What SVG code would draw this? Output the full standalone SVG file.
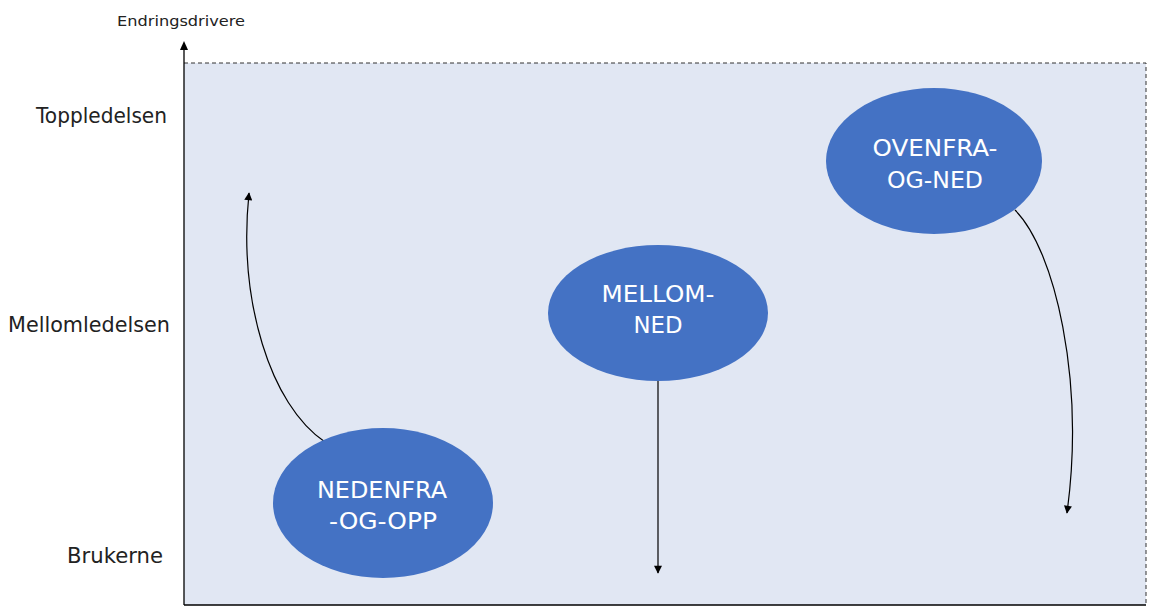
<svg xmlns="http://www.w3.org/2000/svg" width="1152" height="607" viewBox="0 0 1152 607">
  <defs>
    <marker id="arrow" viewBox="0 0 10 10" refX="9" refY="5" markerWidth="9" markerHeight="8" orient="auto-start-reverse" markerUnits="userSpaceOnUse">
      <path d="M0,0 L10,5 L0,10 z" fill="#000"/>
    </marker>
    <style>
      .axis { stroke: #000; stroke-width: 1.3; fill: none; }
      .frame { stroke: #333; stroke-width: 1; stroke-dasharray: 4 3; fill: none; }
      .conn { stroke: #000; stroke-width: 1.2; fill: none; marker-end: url(#arrow); }
      .node { fill: #4472C4; }
      .ntext { font-family: "DejaVu Sans", "Liberation Sans", sans-serif; font-size: 23px; fill: #fff; text-anchor: middle; }
      .level { font-family: "DejaVu Sans", "Liberation Sans", sans-serif; font-size: 21px; fill: #222; text-anchor: end; }
      .title { font-family: "DejaVu Sans", "Liberation Sans", sans-serif; font-size: 14px; fill: #222; }
    </style>
  </defs>

  <rect width="1152" height="607" fill="#fff"/>

  <!-- plotting area -->
  <rect x="184" y="63" width="962" height="542" fill="#E1E7F3"/>
  <path class="frame" d="M184,63 H1146 V605"/>
  <path class="axis" d="M184,605 H1146"/>
  <path class="axis" d="M184,605 V48"/>
  <path d="M180,50 L184,41 L188,50 z" fill="#000"/>

  <!-- axis labels -->
  <text class="title" x="117" y="26" textLength="128" lengthAdjust="spacingAndGlyphs">Endringsdrivere</text>
  <text class="level" x="167" y="123" textLength="131" lengthAdjust="spacingAndGlyphs">Toppledelsen</text>
  <text class="level" x="170" y="332" textLength="162" lengthAdjust="spacingAndGlyphs">Mellomledelsen</text>
  <text class="level" x="163" y="563" textLength="96" lengthAdjust="spacingAndGlyphs">Brukerne</text>

  <!-- connectors -->
  <g id="connectors">
    <path class="conn" d="M325,442 C270,405 238,300 249,193"/>
    <path class="conn" d="M658,381 L658,573"/>
    <path class="conn" d="M1015,210 C1055,250 1085,380 1067,513"/>
  </g>

  <g id="node-nedenfra">
    <ellipse class="node" cx="383" cy="503" rx="110" ry="75"/>
    <text class="ntext" x="382" y="498" textLength="130" lengthAdjust="spacingAndGlyphs">NEDENFRA</text>
    <text class="ntext" x="383" y="529" textLength="108" lengthAdjust="spacingAndGlyphs">-OG-OPP</text>
  </g>

  <g id="node-mellom">
    <ellipse class="node" cx="658" cy="313" rx="110" ry="68"/>
    <text class="ntext" x="658" y="302" textLength="113" lengthAdjust="spacingAndGlyphs">MELLOM-</text>
    <text class="ntext" x="658" y="333" textLength="49" lengthAdjust="spacingAndGlyphs">NED</text>
  </g>

  <g id="node-ovenfra">
    <ellipse class="node" cx="934" cy="161" rx="108" ry="73"/>
    <text class="ntext" x="935" y="156" textLength="125" lengthAdjust="spacingAndGlyphs">OVENFRA-</text>
    <text class="ntext" x="935" y="188" textLength="96" lengthAdjust="spacingAndGlyphs">OG-NED</text>
  </g>
</svg>
